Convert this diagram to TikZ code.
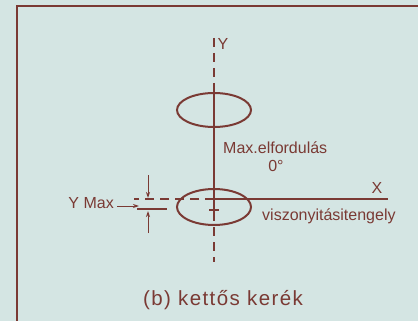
\documentclass[tikz,border=0pt]{standalone}
\usepackage{fontspec}
\setmainfont{Liberation Sans}
\newfontfamily\capfont[LetterSpace=7]{Liberation Sans}
\usepackage{tikz}
\usetikzlibrary{shapes.geometric, arrows.meta, positioning, calc}
\definecolor{mybg}{RGB}{212,229,227}
\definecolor{mybrown}{RGB}{122,58,52}
\tikzset{
  wheel/.style={ellipse, draw=mybrown, line width=2pt,
    minimum width=74pt, minimum height=34pt, inner sep=0pt},
  axis/.style={color=mybrown, line width=1.1pt},
  dashaxis/.style={axis, dash pattern=on 9pt off 6pt},
  lbl/.style={text=mybrown, font=\fontsize{16}{18}\selectfont, inner sep=0pt},
  arrow/.style={-{Stealth[length=6pt,width=4pt]}, color=mybrown, line width=1pt}
}

\begin{document}
\begin{tikzpicture}[x=1pt, y=-1pt]
  % Background and frame
  \fill[mybg] (0,0) rectangle (418,321);
  \useasboundingbox (0,0) rectangle (418,321);
  \draw[mybrown, line width=1.8pt] (17,330) -- (17,6) -- (425,6);

  % Wheels
  \node[wheel] (topwheel) at (214,110) {};
  \node[wheel, minimum height=36pt] (botwheel) at (214,207) {};

  % Axis points
  \coordinate (ytop) at (214,38);
  \coordinate (ybot) at (214,262);
  \coordinate (orig) at (214,199);
  \coordinate (xend) at (388,199);
  \coordinate (xleft) at (134,199);
  \coordinate (wc) at (214,210);

  % Y axis
  \draw[dashaxis] (ytop) -- (topwheel.north);
  \draw[axis] (topwheel.north) -- (orig);
  \draw[dashaxis, dash phase=2pt] (orig) -- (ybot);
  \draw[axis] ($(wc)+(-5,0)$) -- ($(wc)+(5,0)$);
  \draw[axis] ($(wc)+(0,-5)$) -- ($(wc)+(0,5)$);

  % X axis
  \draw[axis] (orig) -- (xend);
  \draw[dashaxis] (orig) -- (xleft);

  % Y Max offset
  \coordinate (tickl) at (137,209);
  \coordinate (tickr) at (167,209);
  \draw[axis] (tickl) -- (tickr);
  \coordinate (upA) at (148,175);
  \coordinate (upB) at (148,198);
  \coordinate (dnA) at (148,233);
  \coordinate (dnB) at (148,211);
  \draw[arrow] (upA) -- (upB);
  \draw[arrow] (dnA) -- (dnB);

  % Labels
  \node[lbl] (ylbl) at (223,44) {Y};
  \node[lbl] (xlbl) at (377,188) {X};
  \node[lbl, anchor=west] (rot) at (223,148) {Max.elfordulás};
  \node[lbl] (deg) at (276,166) {0°};
  \node[lbl, anchor=west] (ref) at (262,216) {viszonyitásitengely};
  \node[lbl, anchor=east] (ymax) at (114,203) {Y Max};
  \coordinate (ymaxtip) at (139,206);
  \draw[arrow] (ymax.east |- ymaxtip) ++(3,0) -- (ymaxtip);

  % Caption
  \node[text=mybrown, font=\capfont\fontsize{20.5}{24}\selectfont] (cap) at (223,300) {(b) kettős kerék};
\end{tikzpicture}
\end{document}
